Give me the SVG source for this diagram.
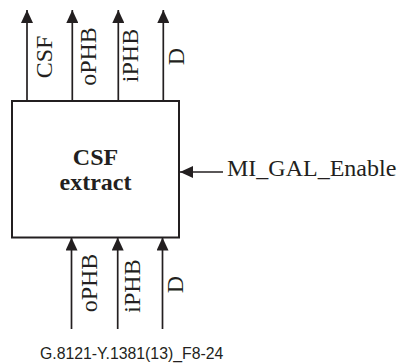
<svg xmlns="http://www.w3.org/2000/svg" width="398" height="363" viewBox="0 0 398 363">
<defs>
<style>
.ln{stroke:#231f20;stroke-width:1.7;fill:none}
.bx{stroke:#231f20;stroke-width:2;fill:#ffffff}
.lb{font-family:"Liberation Serif","Times New Roman",serif;font-size:24px;fill:#231f20}
.vl{font-family:"Liberation Serif","Times New Roman",serif;font-size:24px;fill:#231f20;text-anchor:middle}
.bd{font-family:"Liberation Serif","Times New Roman",serif;font-size:24px;font-weight:bold;fill:#231f20;text-anchor:middle}
.cap{font-family:"Liberation Sans",Arial,sans-serif;font-size:15.8px;fill:#231f20}
</style>
<marker id="ah" markerUnits="userSpaceOnUse" markerWidth="14" markerHeight="12" refX="13" refY="6" orient="auto">
<path d="M0,0 L13,6 L0,12 z" fill="#231f20"/>
</marker>
</defs>
<rect width="398" height="363" fill="#ffffff"/>
<g id="csf_extract">
<rect class="bx" x="12" y="101" width="167" height="136.5"/>
<text class="bd" x="95.5" y="165">CSF</text>
<text class="bd" x="95.5" y="190">extract</text>
</g>
<g id="connectors">
<line class="ln" x1="27" y1="101" x2="27" y2="10" marker-end="url(#ah)"/>
<line class="ln" x1="72.3" y1="101" x2="72.3" y2="10" marker-end="url(#ah)"/>
<line class="ln" x1="118.3" y1="101" x2="118.3" y2="10" marker-end="url(#ah)"/>
<line class="ln" x1="163.3" y1="101" x2="163.3" y2="10" marker-end="url(#ah)"/>
<line class="ln" x1="71.5" y1="329" x2="71.5" y2="237.5" marker-end="url(#ah)"/>
<line class="ln" x1="117.7" y1="329" x2="117.7" y2="237.5" marker-end="url(#ah)"/>
<line class="ln" x1="162.5" y1="329" x2="162.5" y2="237.5" marker-end="url(#ah)"/>
<line class="ln" x1="223" y1="172" x2="180" y2="172" marker-end="url(#ah)"/>
</g>
<g id="labels">
<text class="vl" transform="translate(52,57) rotate(-90)">CSF</text>
<text class="vl" transform="translate(95.5,56.5) rotate(-90)">oPHB</text>
<text class="vl" transform="translate(138,55.5) rotate(-90)">iPHB</text>
<text class="vl" transform="translate(183.5,56.5) rotate(-90)">D</text>
<text class="vl" transform="translate(96.5,283) rotate(-90)">oPHB</text>
<text class="vl" transform="translate(140,286) rotate(-90)">iPHB</text>
<text class="vl" transform="translate(183,284.5) rotate(-90)">D</text>
<text class="lb" x="227" y="176">MI_GAL_Enable</text>
<text class="cap" x="40" y="358.5">G.8121-Y.1381(13)_F8-24</text>
</g>
</svg>
